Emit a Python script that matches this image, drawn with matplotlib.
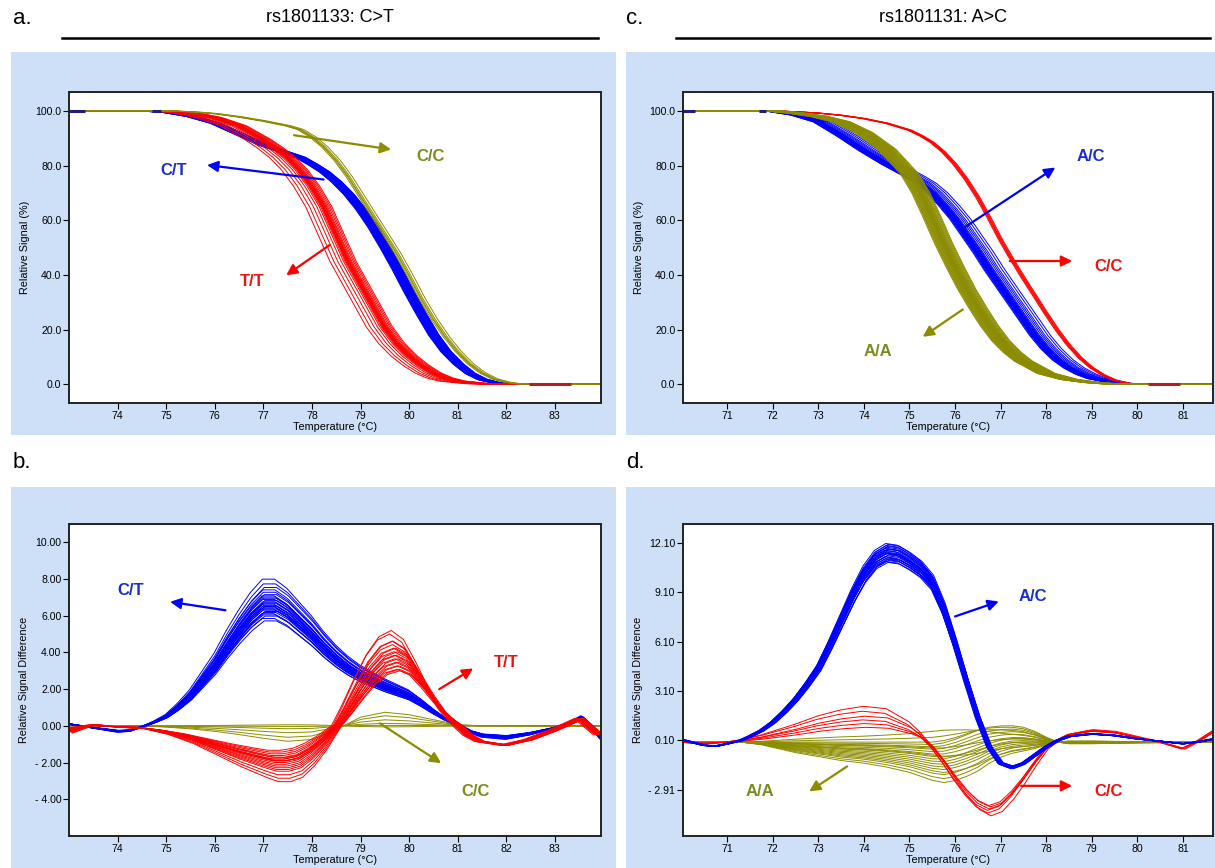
import numpy as np
import matplotlib
matplotlib.use("Agg")
import matplotlib.pyplot as plt
from matplotlib.patches import Rectangle
from matplotlib.lines import Line2D

plt.rcParams["font.family"] = ["Liberation Sans", "DejaVu Sans"]

# ======= colours =======
BLUE = "#0000ff"
RED = "#ff0000"
OLIVE = "#8c8c00"
BG = "#cde0f7"
TXT_BLUE = "#1a2ecc"
TXT_RED = "#ee1111"
TXT_OLIVE = "#7a8c1e"
MARK_BLUE = "#1f1f7a"
MARK_RED = "#b02020"

# ======= panel a: rs1801133 normalised melt curves =======
A_CC_T = [72.0, 75.0, 75.5, 76.0, 76.5, 77.0, 77.5, 77.75, 78.0, 78.25, 78.5, 78.75, 79.0,
          79.25, 79.5, 79.75, 80.0, 80.25, 80.5, 80.75, 81.0, 81.25, 81.5, 81.75, 82.0, 82.25, 85.0]
A_CC_V = [100, 100, 99.7, 99.0, 97.8, 96.3, 94.5, 93.2, 90.5, 86.8, 82.0, 76.0, 69.0,
          62.0, 55.0, 48.0, 40.0, 31.5, 24.0, 17.5, 12.0, 7.5, 4.2, 2.0, 0.8, 0.2, 0]
A_CT_T = [72.0, 74.5, 75.0, 75.5, 76.0, 76.5, 77.0, 77.25, 77.5, 77.75, 78.0, 78.25, 78.5, 78.75,
          79.0, 79.25, 79.5, 79.75, 80.0, 80.25, 80.5, 80.75, 81.0, 81.25, 81.5, 81.75, 82.0, 82.5, 85.0]
A_CT_V = [100, 100, 99.5, 98.0, 95.5, 91.5, 87.5, 86.0, 84.5, 83.0, 80.5, 77.7, 74.0, 69.5,
          64.0, 57.5, 50.0, 42.0, 33.5, 25.5, 18.0, 12.0, 7.5, 4.0, 1.8, 0.7, 0.2, 0, 0]
A_TT_T = [72.0, 75.0, 75.5, 76.0, 76.5, 77.0, 77.25, 77.5, 77.75, 78.0, 78.25, 78.5, 78.75,
          79.0, 79.25, 79.5, 79.75, 80.0, 80.25, 80.5, 80.75, 81.0, 81.5, 82.0, 85.0]
A_TT_V = [100, 100, 99.3, 97.5, 94.5, 89.5, 86.5, 83.0, 78.5, 72.5, 65.0, 55.0, 45.0,
          37.0, 29.0, 21.0, 15.0, 10.5, 7.0, 4.2, 2.3, 1.2, 0.3, 0, 0]
A_CC_SHIFT = [-0.05, -0.02, 0.0, 0.03, 0.08]
A_CT_SHIFT = [-0.10, -0.08, -0.07, -0.06, -0.05, -0.04, -0.04, -0.03, -0.02, -0.02,
              -0.01, 0.0, 0.0, 0.01, 0.01, 0.02, 0.02, 0.03, 0.03, 0.04,
              0.05, 0.05, 0.06, 0.07, 0.08, 0.09, 0.10, 0.11, 0.12, -0.09]
A_TT_SHIFT = [-0.38, -0.30, -0.22, -0.15, -0.10, -0.07, -0.05, -0.04, -0.03, -0.02,
              -0.01, 0.0, 0.01, 0.02, 0.03, 0.05, 0.07, 0.10, 0.13, 0.16]
A_MARKS = [(73.0, 73.33, 100, MARK_BLUE), (74.7, 74.9, 100, MARK_BLUE), (82.46, 83.34, 0, MARK_RED)]

# ======= panel b: rs1801133 difference plot =======
B_CT_T = [73.0, 73.5, 74.0, 74.25, 74.5, 74.75, 75.0, 75.25, 75.5, 75.75, 76.0, 76.25, 76.5,
          76.75, 77.0, 77.25, 77.5, 77.75, 78.0, 78.25, 78.5, 78.75, 79.0, 79.25, 79.5, 79.75,
          80.0, 80.25, 80.5, 80.75, 81.05, 81.25, 81.5, 82.0, 82.5, 83.0, 83.3, 83.55, 83.7, 83.95]
B_CT_V = [0.1, -0.1, -0.28, -0.25, -0.05, 0.2, 0.5, 1.0, 1.6, 2.4, 3.2, 4.2, 5.1,
          5.9, 6.5, 6.5, 6.1, 5.5, 4.9, 4.2, 3.6, 3.1, 2.7, 2.4, 2.1, 1.85,
          1.6, 1.2, 0.75, 0.35, 0.0, -0.3, -0.5, -0.6, -0.4, -0.1, 0.15, 0.45, 0.1, -0.6]
B_CT_SCALE = [0.88, 0.9, 0.92, 0.93, 0.94, 0.95, 0.96, 0.97, 0.98, 0.98,
              0.99, 1.0, 1.0, 1.01, 1.02, 1.03, 1.03, 1.04, 1.05, 1.06,
              1.07, 1.08, 1.09, 1.1, 1.12, 1.14, 1.16, 1.19, 1.23, 0.96]
B_CT_SHIFT = [0.02, -0.02, 0.03, 0.0, -0.03, 0.01, 0.04, -0.01, 0.02, -0.04,
              0.0, 0.03, -0.02, 0.01, -0.03, 0.02, 0.0, -0.01, 0.03, -0.02,
              0.01, 0.0, -0.03, 0.02, 0.0, -0.01, 0.02, 0.0, -0.02, 0.05]
B_TT_T = [73.0, 73.5, 74.0, 74.5, 75.0, 75.5, 76.0, 76.5, 77.0, 77.25, 77.5, 77.75, 78.0,
          78.25, 78.55, 78.75, 79.0, 79.25, 79.5, 79.75, 80.0, 80.25, 80.5, 80.75, 81.05,
          81.25, 81.5, 82.0, 82.5, 83.0, 83.3, 83.55, 83.7, 83.95]
B_TT_LOW = [-0.25, 0.05, -0.05, -0.1, -0.3, -0.6, -1.0, -1.4, -1.75, -1.9, -1.9, -1.75, -1.35,
            -0.8, 0.0] + [0.0] * 19
B_TT_HIGH = [0.0] * 15 + [0.8, 1.9, 2.9, 3.6, 3.85, 3.5, 2.6, 1.6, 0.7, 0.0] + [0.0] * 9
B_TT_TAIL = [0.0] * 25 + [-0.5, -0.85, -1.05, -0.75, -0.25, 0.1, 0.4, 0.05, -0.5]
B_TT_COEF = [(0.7, 1.3), (0.75, 1.35), (0.8, 1.2), (0.85, 1.15), (0.9, 1.1), (0.95, 1.05),
             (1.0, 1.0), (1.0, 0.95), (1.05, 1.1), (1.1, 0.9), (0.9, 1.0), (1.15, 0.85),
             (1.2, 1.05), (1.0, 0.8), (1.25, 0.95), (1.3, 0.9), (0.95, 1.2), (1.4, 0.85),
             (1.5, 0.8), (1.6, 0.78)]
B_TT_SHIFT = [-0.15, -0.12, -0.1, -0.09, -0.07, -0.06, -0.05, -0.04, -0.03, -0.02,
              -0.01, 0.0, 0.01, 0.0, 0.02, 0.03, -0.08, 0.04, 0.05, 0.06]
B_CC_T = [73.0, 74.5, 75.0, 75.5, 76.0, 76.5, 77.0, 77.5, 78.0, 78.5, 79.0, 79.5,
          80.0, 80.5, 81.0, 81.5, 83.95]
B_CC_V = [0, 0, -0.05, -0.12, -0.22, -0.35, -0.5, -0.62, -0.55, -0.15, 0.35, 0.55,
          0.45, 0.25, 0.05, 0, 0]
B_CC_SCALE = [1.35, 1.0, 0.6, 0.25, 0.05, -0.1]

# ======= panel c: rs1801131 normalised melt curves =======
C_CC_T = [69.0, 72.0, 72.5, 73.0, 73.5, 74.0, 74.5, 75.0, 75.25, 75.5, 75.75, 76.0, 76.25,
          76.5, 76.75, 77.0, 77.25, 77.5, 77.75, 78.0, 78.25, 78.5, 78.75, 79.0, 79.25, 79.5,
          79.75, 80.0, 83.0]
C_CC_V = [100, 100, 99.7, 99.2, 98.4, 97.2, 95.5, 93.0, 91.0, 88.5, 85.0, 80.5, 75.0,
          68.5, 61.0, 53.0, 45.8, 39.0, 32.5, 26.0, 19.8, 14.3, 9.7, 6.1, 3.5, 1.6,
          0.5, 0, 0]
C_AC_T = [69.0, 71.8, 72.0, 72.5, 73.0, 73.5, 74.0, 74.5, 75.0, 75.25, 75.5, 75.75, 76.0,
          76.25, 76.5, 76.75, 77.0, 77.25, 77.5, 77.75, 78.0, 78.25, 78.5, 78.75, 79.0, 79.5,
          79.75, 83.0]
C_AC_V = [100, 100, 99.8, 98.5, 96.0, 91.0, 85.5, 80.5, 76.0, 73.5, 70.0, 65.5, 60.5,
          54.5, 48.5, 42.0, 36.0, 30.0, 24.0, 18.0, 13.0, 9.0, 6.0, 3.8, 2.2, 0.5, 0, 0]
C_AA_T = [69.0, 72.0, 72.5, 73.0, 73.5, 74.0, 74.5, 75.0, 75.25, 75.5, 75.75, 76.0, 76.25,
          76.5, 76.75, 77.0, 77.25, 77.5, 78.0, 78.5, 79.0, 79.5, 80.0, 83.0]
C_AA_V = [100, 100, 99.2, 98.0, 96.0, 92.0, 86.0, 77.0, 70.0, 61.0, 51.5, 43.0, 35.0,
          28.0, 21.5, 16.0, 11.8, 8.5, 4.0, 1.8, 0.7, 0.1, 0, 0]
C_CC_SHIFT = [-0.05, -0.03, -0.01, 0.0, 0.02, 0.04]
C_AC_SHIFT = [-0.12, -0.10, -0.08, -0.07, -0.06, -0.05, -0.04, -0.03, -0.02, -0.01,
              0.0, 0.0, 0.01, 0.02, 0.03, 0.04, 0.05, 0.06, 0.08, 0.10,
              0.14, 0.18, 0.22, 0.28, 0.34]
C_AA_SHIFT = [-0.20, -0.18, -0.16, -0.15, -0.13, -0.12, -0.10, -0.09, -0.08, -0.06,
              -0.05, -0.04, -0.03, -0.02, -0.01, 0.0, 0.01, 0.02, 0.03, 0.04,
              0.05, 0.06, 0.08, 0.09, 0.10, 0.12, 0.14, 0.16, 0.18, 0.20]
C_MARKS = [(70.03, 70.3, 100, MARK_BLUE), (71.7, 71.85, 100, MARK_BLUE), (80.23, 80.93, 0, MARK_RED)]

# ======= panel d: rs1801131 difference plot =======
D_AC_T = [70.0, 70.5, 70.75, 71.0, 71.3, 71.5, 71.75, 72.0, 72.25, 72.5, 72.75, 73.0, 73.25,
          73.5, 73.75, 74.0, 74.25, 74.5, 74.75, 75.0, 75.25, 75.5, 75.75, 76.0, 76.25, 76.5,
          76.75, 77.0, 77.25, 77.5, 77.75, 78.0, 78.25, 78.5, 79.0, 79.5, 80.0, 80.5, 81.0,
          81.3, 81.7]
D_AC_V = [0.15, -0.2, -0.25, -0.1, 0.1, 0.35, 0.7, 1.2, 1.85, 2.6, 3.5, 4.5, 5.9,
          7.4, 8.9, 10.2, 11.1, 11.5, 11.4, 11.0, 10.5, 9.7, 8.1, 6.0, 3.7, 1.5,
          -0.3, -1.3, -1.55, -1.3, -0.8, -0.3, 0.1, 0.35, 0.5, 0.4, 0.2, 0.05, -0.1,
          0.0, 0.2]
D_AC_SCALE = [0.95, 0.955, 0.96, 0.965, 0.97, 0.975, 0.98, 0.985, 0.99, 0.995,
              1.0, 1.0, 1.005, 1.01, 1.015, 1.02, 1.02, 1.025, 1.03, 1.035,
              1.04, 1.045, 1.05, 0.97, 1.0]
D_AC_SHIFT = [0.03, -0.02, 0.04, 0.0, -0.03, 0.02, -0.04, 0.01, 0.05, -0.01,
              0.0, 0.03, -0.02, 0.02, -0.05, 0.01, 0.04, -0.03, 0.0, 0.02,
              -0.01, 0.03, -0.02, 0.06, -0.06]
D_CC_T = [70.0, 70.5, 71.0, 71.3, 71.75, 72.0, 72.5, 73.0, 73.5, 74.0, 74.5, 75.0, 75.25,
          75.5, 75.75, 76.0, 76.25, 76.5, 76.75, 77.0, 77.25, 77.5, 77.75, 78.0, 78.25,
          78.5, 79.0, 79.5, 80.0, 80.5, 81.0, 81.3, 81.7]
D_CC_HUMP = [0.0, -0.1, 0.0, 0.1, 0.3, 0.45, 0.75, 1.1, 1.35, 1.5, 1.4, 0.85, 0.4] + [0.0] * 20
D_CC_DIP = [0.0] * 13 + [-0.3, -1.2, -2.2, -3.1, -3.8, -4.15, -3.9, -3.2, -2.3, -1.3, -0.4,
                         0.1, 0.45, 0.7, 0.6, 0.3, 0.0, -0.4, 0.0, 0.7]
D_CC_COEF = [(0.6, 1.08), (0.75, 0.98), (0.9, 1.04), (1.05, 0.95), (1.25, 1.0), (1.45, 0.93)]
D_CC_SHIFT = [0.04, 0.0, -0.03, 0.02, -0.04, -0.01]
D_AA_T = [70.0, 71.3, 71.75, 72.0, 72.5, 73.0, 73.5, 74.0, 74.5, 75.0, 75.5, 75.75, 76.0,
          76.25, 76.5, 76.75, 77.0, 77.25, 77.5, 77.75, 78.0, 78.25, 78.5, 79.0, 80.0, 81.7]
D_AA_EARLY = [0, 0, -0.1, -0.2, -0.4, -0.55, -0.7, -0.8, -0.95, -1.15, -1.45, -1.5, -1.35,
              -1.1, -0.8, -0.45, -0.2, -0.05, 0, 0, 0, 0, 0, 0, 0, 0]
D_AA_LATE = [0.0] * 11 + [0.1, 0.3, 0.55, 0.8, 0.95, 1.0, 1.0, 0.9, 0.65, 0.3, 0.0, -0.1,
                          -0.1, -0.05, 0.0]
D_AA_COEF = [(1.6, -0.6), (1.45, -0.45), (1.3, -0.3), (1.2, -0.5), (1.1, -0.2), (1.0, -0.1),
             (0.9, 0.0), (0.8, 0.1), (0.7, 0.25), (0.6, 0.0), (0.5, 0.3), (0.4, 0.5),
             (0.3, 0.65), (0.2, 0.8), (0.1, 1.0), (0.0, 0.9), (-0.2, 0.7), (-0.45, 0.45),
             (0.55, -0.3), (0.25, 0.2)]

# ======= axis ticks =======
AC_YTICKS = [0, 20, 40, 60, 80, 100]
AC_YLABELS = ["0.0", "20.0", "40.0", "60.0", "80.0", "100.0"]
B_YTICKS = [-4, -2, 0, 2, 4, 6, 8, 10]
B_YLABELS = ["- 4.00", "- 2.00", "0.00", "2.00", "4.00", "6.00", "8.00", "10.00"]
D_YTICKS = [-2.91, 0.10, 3.10, 6.10, 9.10, 12.10]
D_YLABELS = ["- 2.91", "0.10", "3.10", "6.10", "9.10", "12.10"]
AB_XTICKS = list(range(74, 84))
CD_XTICKS = list(range(71, 82))

# ======= annotations: (label, text pos, arrow tail, arrow head, arrow colour, text colour) =======
A_NOTES = [("C/C", (80.44, 83.4), (77.63, 91.1), (79.63, 85.9), OLIVE, TXT_OLIVE),
           ("C/T", (75.15, 78.1), (78.24, 74.9), (75.84, 80.2), BLUE, TXT_BLUE),
           ("T/T", (76.78, 37.5), (78.36, 50.9), (77.47, 39.9), RED, TXT_RED)]
B_NOTES = [("C/T", (74.26, 7.39), (76.22, 6.3), (75.08, 6.76), BLUE, TXT_BLUE),
           ("T/T", (82.0, 3.44), (80.62, 2.0), (81.32, 3.13), RED, TXT_RED),
           ("C/C", (81.36, -3.57), (79.4, 0.14), (80.66, -2.03), OLIVE, TXT_OLIVE)]
C_NOTES = [("A/C", (78.99, 83.4), (76.17, 57.0), (78.2, 79.3), BLUE, TXT_BLUE),
           ("C/C", (79.36, 43.2), (77.2, 45.1), (78.57, 45.1), RED, TXT_RED),
           ("A/A", (74.3, 11.9), (76.17, 27.4), (75.29, 17.4), OLIVE, TXT_OLIVE)]
D_NOTES = [("A/C", (77.7, 8.86), (76.0, 7.64), (76.96, 8.55), BLUE, TXT_BLUE),
           ("C/C", (79.36, -3.0), (77.45, -2.66), (78.57, -2.66), RED, TXT_RED),
           ("A/A", (71.72, -3.0), (73.63, -1.48), (72.8, -3.0), OLIVE, TXT_OLIVE)]

W, H = 1215, 868


def fx(x):
    return x / W


def fy(y):
    return 1 - y / H


def draw_traces(ax, t, shapes, coefs, shifts, color, lw=0.7):
    t = np.asarray(t, dtype=float)
    shapes = [np.asarray(s, dtype=float) for s in shapes]
    for c, dx in zip(coefs, shifts):
        y = sum(ci * s for ci, s in zip(c, shapes))
        ax.plot(t + dx, y, color=color, lw=lw, solid_capstyle="butt")


def style_axes(ax, xlim, ylim, xticks, yticks, ylabels, ylabel):
    ax.set_xlim(*xlim)
    ax.set_ylim(*ylim)
    ax.set_xticks(xticks)
    ax.set_xticklabels([str(v) for v in xticks])
    ax.set_yticks(yticks)
    ax.set_yticklabels(ylabels)
    ax.tick_params(direction="out", length=4, width=0.8, labelsize=7.6, pad=1.5)
    for s in ax.spines.values():
        s.set_linewidth(1.4)
        s.set_color("#222222")
    ax.set_xlabel("Temperature (°C)", fontsize=7.8, labelpad=1)
    ax.set_ylabel(ylabel, fontsize=7.8, labelpad=4)


def annotate(ax, notes):
    for label, tpos, tail, head, acol, tcol in notes:
        ax.annotate("", xy=head, xytext=tail,
                    arrowprops=dict(arrowstyle="-|>", color=acol, lw=1.6,
                                    mutation_scale=16, shrinkA=0, shrinkB=0))
        ax.text(tpos[0], tpos[1], label, color=tcol, fontsize=12, fontweight="bold",
                ha="center", va="center")


def draw_marks(ax, marks):
    for x0, x1, y, col in marks:
        ax.plot([x0, x1], [y, y], color=col, lw=2.2, solid_capstyle="butt")


fig = plt.figure(figsize=(W / 100, H / 100), dpi=100)

# light blue panel backgrounds
for x0, y0, x1, y1 in [(11, 52, 616, 435), (626, 52, 1215, 435),
                       (11, 487, 616, 868), (626, 487, 1215, 868)]:
    fig.add_artist(Rectangle((fx(x0), fy(y1)), fx(x1 - x0), (y1 - y0) / H,
                             transform=fig.transFigure, facecolor=BG, edgecolor="none", zorder=0))

# panel letters and titles
for txt, x, y in [("a.", 22, 18), ("c.", 635, 18), ("b.", 22, 462), ("d.", 635, 462)]:
    fig.text(fx(x), fy(y), txt, fontsize=16, ha="center", va="center")
fig.text(fx(330), fy(18), "rs1801133: C>T", fontsize=13, ha="center", va="center")
fig.text(fx(943), fy(18), "rs1801131: A>C", fontsize=13, ha="center", va="center")
fig.add_artist(Line2D([fx(62), fx(598)], [fy(38), fy(38)], color="black", lw=1.8))
fig.add_artist(Line2D([fx(676), fx(1210)], [fy(38), fy(38)], color="black", lw=1.8))

ax_a = fig.add_axes([fx(69), fy(403), fx(532), 311 / H])
ax_c = fig.add_axes([fx(683), fy(403), fx(530), 311 / H])
ax_b = fig.add_axes([fx(69), fy(836), fx(532), 312 / H])
ax_d = fig.add_axes([fx(683), fy(836), fx(530), 312 / H])

# ----- a -----
draw_traces(ax_a, A_CT_T, [A_CT_V], [(1,)] * len(A_CT_SHIFT), A_CT_SHIFT, BLUE)
draw_traces(ax_a, A_TT_T, [A_TT_V], [(1,)] * len(A_TT_SHIFT), A_TT_SHIFT, RED)
draw_traces(ax_a, A_CC_T, [A_CC_V], [(1,)] * len(A_CC_SHIFT), A_CC_SHIFT, OLIVE)
draw_marks(ax_a, A_MARKS)
style_axes(ax_a, (73.0, 83.95), (-6.8, 106.9), AB_XTICKS, AC_YTICKS, AC_YLABELS,
           "Relative Signal (%)")
annotate(ax_a, A_NOTES)

# ----- b -----
draw_traces(ax_b, B_CC_T, [B_CC_V], [(s,) for s in B_CC_SCALE], [0.0] * len(B_CC_SCALE), OLIVE)
draw_traces(ax_b, B_CT_T, [B_CT_V], [(s,) for s in B_CT_SCALE], B_CT_SHIFT, BLUE)
draw_traces(ax_b, B_TT_T, [B_TT_LOW, B_TT_HIGH, B_TT_TAIL],
            [(a, b, 1.0) for a, b in B_TT_COEF], B_TT_SHIFT, RED)
style_axes(ax_b, (73.0, 83.95), (-6.0, 11.0), AB_XTICKS, B_YTICKS, B_YLABELS,
           "Relative Signal Difference")
annotate(ax_b, B_NOTES)

# ----- c -----
draw_traces(ax_c, C_AC_T, [C_AC_V], [(1,)] * len(C_AC_SHIFT), C_AC_SHIFT, BLUE)
draw_traces(ax_c, C_CC_T, [C_CC_V], [(1,)] * len(C_CC_SHIFT), C_CC_SHIFT, RED)
draw_traces(ax_c, C_AA_T, [C_AA_V], [(1,)] * len(C_AA_SHIFT), C_AA_SHIFT, OLIVE)
draw_marks(ax_c, C_MARKS)
style_axes(ax_c, (70.03, 81.66), (-6.8, 106.9), CD_XTICKS, AC_YTICKS, AC_YLABELS,
           "Relative Signal (%)")
annotate(ax_c, C_NOTES)

# ----- d -----
draw_traces(ax_d, D_AA_T, [D_AA_EARLY, D_AA_LATE], D_AA_COEF, [0.0] * len(D_AA_COEF), OLIVE)
draw_traces(ax_d, D_CC_T, [D_CC_HUMP, D_CC_DIP], D_CC_COEF, D_CC_SHIFT, RED)
draw_traces(ax_d, D_AC_T, [D_AC_V], [(s,) for s in D_AC_SCALE], D_AC_SHIFT, BLUE)
style_axes(ax_d, (70.03, 81.66), (-5.71, 13.26), CD_XTICKS, D_YTICKS, D_YLABELS,
           "Relative Signal Difference")
annotate(ax_d, D_NOTES)

fig.savefig("out.png", dpi=100)
